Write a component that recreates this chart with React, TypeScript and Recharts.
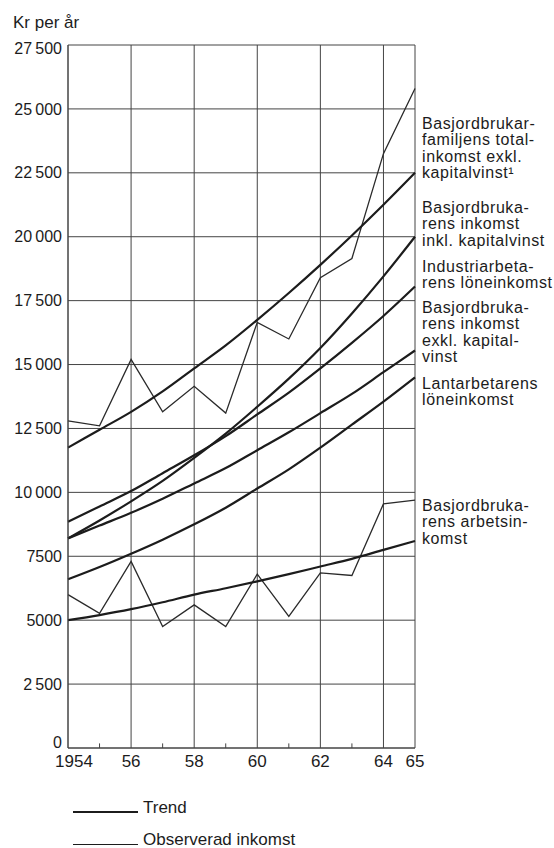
import { LineChart, Line, XAxis, YAxis, CartesianGrid, ReferenceLine } from 'recharts'

// Kr per år, 1954-1965
const years = [1954, 1955, 1956, 1957, 1958, 1959, 1960, 1961, 1962, 1963, 1964, 1965]
const familjTotalTrend = [11750, 12450, 13150, 13950, 14850, 15750, 16750, 17800, 18900, 20050, 21250, 22500]
const familjTotalObs = [12800, 12600, 15200, 13150, 14150, 13100, 16650, 16000, 18400, 19150, 23250, 25800]
const inklKapitalTrend = [8200, 8900, 9650, 10450, 11350, 12300, 13350, 14450, 15650, 17000, 18450, 20000]
const industriTrend = [8850, 9450, 10050, 10750, 11450, 12200, 13050, 13900, 14850, 15850, 16900, 18050]
const exklKapitalTrend = [8200, 8700, 9200, 9750, 10350, 10950, 11650, 12350, 13100, 13850, 14700, 15550]
const lantarbetareTrend = [6600, 7080, 7600, 8150, 8750, 9400, 10150, 10900, 11750, 12650, 13550, 14500]
const arbetsinkomstTrend = [5000, 5200, 5430, 5700, 6000, 6250, 6520, 6800, 7100, 7400, 7750, 8100]
const arbetsinkomstObs = [6000, 5270, 7300, 4750, 5600, 4750, 6800, 5150, 6850, 6750, 9550, 9700]

const xTicks = [1954, 1956, 1958, 1960, 1962, 1964, 1965]
const xTickLabels = ['1954', '56', '58', '60', '62', '64', '65']
const minorTicks = [1955, 1957, 1959, 1961, 1963]
const yTicks = [0, 2500, 5000, 7500, 10000, 12500, 15000, 17500, 20000, 22500, 25000, 27500]
const yTickLabels = ['0', '2\u2009500', '5000', '7500', '10\u2009000', '12\u2009500', '15\u2009000', '17\u2009500', '20\u2009000', '22\u2009500', '25\u2009000', '27\u2009500']

const seriesLabels = [
  { top: 116, lines: ['Basjordbrukar-', 'familjens total-', 'inkomst exkl.', 'kapitalvinst\u00b9'] },
  { top: 200, lines: ['Basjordbruka-', 'rens inkomst', 'inkl. kapitalvinst'] },
  { top: 259, lines: ['Industriarbeta-', 'rens löneinkomst'] },
  { top: 300, lines: ['Basjordbruka-', 'rens inkomst', 'exkl. kapital-', 'vinst'] },
  { top: 376, lines: ['Lantarbetarens', 'löneinkomst'] },
  { top: 498, lines: ['Basjordbruka-', 'rens arbetsin-', 'komst'] },
]

const data = years.map((year, i) => ({
  year,
  familjTotalTrend: familjTotalTrend[i],
  familjTotalObs: familjTotalObs[i],
  inklKapitalTrend: inklKapitalTrend[i],
  industriTrend: industriTrend[i],
  exklKapitalTrend: exklKapitalTrend[i],
  lantarbetareTrend: lantarbetareTrend[i],
  arbetsinkomstTrend: arbetsinkomstTrend[i],
  arbetsinkomstObs: arbetsinkomstObs[i],
}))

const ink = '#1c1c1c'
const gridClr = '#444'
const font = '"Liberation Sans", Arial, sans-serif'

function XTick(props: any) {
  const { x, y, payload } = props
  const idx = xTicks.indexOf(payload.value)
  const dx = payload.value === 1954 ? 6 : 0
  return (
    <text x={x + dx} y={y} dy="0.71em" textAnchor="middle" fill={ink} fontSize={17} fontFamily={font}>
      {xTickLabels[idx]}
    </text>
  )
}

function YTick(props: any) {
  const { x, y, payload } = props
  const idx = yTicks.indexOf(payload.value)
  // the zero label sits a little above the baseline in the original
  const dy = payload.value === 0 ? -6 : payload.value === 27500 ? 3 : 0
  return (
    <text x={x} y={y + dy} dy="0.355em" textAnchor="end" fill={ink} fontSize={16} fontFamily={font}>
      {yTickLabels[idx]}
    </text>
  )
}

export default function App() {
  const trendKeys = ['familjTotalTrend', 'inklKapitalTrend', 'industriTrend', 'exklKapitalTrend', 'lantarbetareTrend', 'arbetsinkomstTrend']
  const obsKeys = ['familjTotalObs', 'arbetsinkomstObs']

  return (
    <div style={{ position: 'absolute', left: 0, top: 0, width: 554, height: 848, background: '#fff', fontFamily: font, color: ink }}>
      <div style={{ position: 'absolute', left: 13, top: 14, fontSize: 17, lineHeight: '18px' }}>Kr per år</div>

      <LineChart width={554} height={848} data={data} margin={{ top: 45, right: 139, bottom: 70, left: 8 }}>
        <CartesianGrid stroke={gridClr} strokeWidth={1} />
        <XAxis
          dataKey="year"
          type="number"
          domain={[1954, 1965]}
          ticks={xTicks}
          interval={0}
          height={30}
          tickLine={false}
          tickSize={0}
          tickMargin={7}
          axisLine={{ stroke: gridClr }}
          tick={<XTick />}
        />
        <YAxis
          type="number"
          domain={[0, 27500]}
          ticks={yTicks}
          interval={0}
          width={60}
          tickLine={false}
          tickSize={0}
          tickMargin={6}
          axisLine={{ stroke: gridClr }}
          tick={<YTick />}
        />
        {minorTicks.map(t => (
          <ReferenceLine key={t} segment={[{ x: t, y: 0 }, { x: t, y: 180 }]} stroke={gridClr} strokeWidth={1} />
        ))}
        {obsKeys.map(k => (
          <Line key={k} type="linear" dataKey={k} stroke="#2a2a2a" strokeWidth={1.3} dot={false} isAnimationActive={false} />
        ))}
        {trendKeys.map(k => (
          <Line key={k} type="monotone" dataKey={k} stroke={ink} strokeWidth={2.2} dot={false} isAnimationActive={false} />
        ))}
      </LineChart>

      {seriesLabels.map((g, i) => (
        <div key={i} style={{ position: 'absolute', left: 422, top: g.top, fontSize: 16, lineHeight: '16.4px', letterSpacing: 0.6, whiteSpace: 'nowrap' }}>
          {g.lines.map((l, j) => <div key={j}>{l}</div>)}
        </div>
      ))}

      <div style={{ position: 'absolute', left: 73, top: 811, width: 65, height: 2, background: ink }} />
      <div style={{ position: 'absolute', left: 143, top: 798, fontSize: 17, lineHeight: '20px' }}>Trend</div>
      <div style={{ position: 'absolute', left: 73, top: 844, width: 65, height: 1.4, background: ink }} />
      <div style={{ position: 'absolute', left: 143, top: 830, fontSize: 17, lineHeight: '20px' }}>Observerad inkomst</div>
    </div>
  )
}
